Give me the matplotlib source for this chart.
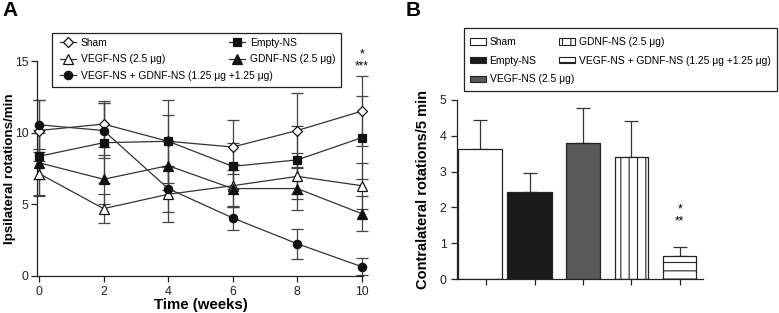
import numpy as np
import matplotlib.pyplot as plt
from matplotlib.patches import Rectangle, Patch

plt.rcParams["font.family"] = ["Liberation Sans", "DejaVu Sans"]
plt.rcParams["hatch.linewidth"] = 0.8

# panel A: ipsilateral rotations over time
weeks = [0, 2, 4, 6, 8, 10]
sham_a = [10.15, 10.6, 9.4, 9.0, 10.15, 11.5]
sham_a_err = [2.1, 1.6, 2.9, 1.9, 2.6, 2.45]
empty_a = [8.35, 9.3, 9.4, 7.65, 8.1, 9.65]
empty_a_err = [1.6, 2.8, 1.8, 1.6, 2.4, 2.9]
vegf_a = [7.15, 4.7, 5.7, 6.3, 6.95, 6.3]
vegf_a_err = [1.5, 1.0, 1.9, 1.5, 1.6, 1.6]
gdnf_a = [7.9, 6.75, 7.7, 6.1, 6.1, 4.35]
gdnf_a_err = [2.3, 1.7, 1.7, 1.3, 1.5, 1.2]
combo_a = [10.55, 10.15, 6.1, 4.05, 2.25, 0.65]
combo_a_err = [1.7, 1.9, 1.6, 0.85, 1.05, 0.6]

# panel B: contralateral rotations
groups_b = ["Sham", "Empty-NS", "VEGF-NS (2.5 \u03bcg)", "GDNF-NS (2.5 \u03bcg)",
            "VEGF-NS + GDNF-NS (1.25 \u03bcg +1.25 \u03bcg)"]
values_b = [3.63, 2.43, 3.81, 3.41, 0.64]
errors_b = [0.82, 0.54, 0.96, 0.99, 0.25]

W, H = 779, 313
fig = plt.figure(figsize=(W / 100, H / 100), dpi=100)

line_col = "#333333"
ax = fig.add_axes([37.4 / W, 1 - 276 / H, 326 / W, 215 / H])

series = [
    ("Sham", sham_a, sham_a_err, "D", "white", 5.5),
    ("VEGF-NS (2.5 \u03bcg)", vegf_a, vegf_a_err, "^", "white", 7),
    ("VEGF-NS + GDNF-NS (1.25 \u03bcg +1.25 \u03bcg)", combo_a, combo_a_err, "o", "#111111", 6),
    ("Empty-NS", empty_a, empty_a_err, "s", "#111111", 5.5),
    ("GDNF-NS (2.5 \u03bcg)", gdnf_a, gdnf_a_err, "^", "#111111", 7),
]
handles = []
for label, vals, errs, mk, fc, ms in series:
    ax.errorbar(weeks, vals, yerr=errs, fmt="none", ecolor="#444444",
                elinewidth=0.9, capsize=4, capthick=0.9, clip_on=False, zorder=2)
    h, = ax.plot(weeks, vals, color=line_col, lw=0.9, marker=mk, markersize=ms,
                 markerfacecolor=fc, markeredgecolor="#111111", markeredgewidth=0.9,
                 clip_on=False, zorder=3, label=label)
    handles.append(h)

ax.set_xlim(-0.05, 10.05)
ax.set_ylim(0, 15)
ax.set_xticks(weeks)
ax.set_yticks([0, 5, 10, 15])
ax.spines["top"].set_visible(False)
ax.spines["right"].set_visible(False)
for s in ["left", "bottom"]:
    ax.spines[s].set_color("#222222")
    ax.spines[s].set_linewidth(0.9)
ax.tick_params(direction="out", length=4, width=0.9, labelsize=8.8, colors="#222222")
ax.tick_params(axis="y", pad=2.5)
ax.set_xlabel("Time (weeks)", fontsize=10.8, fontweight="bold", labelpad=0)
ax.set_ylabel("Ipsilateral rotations/min", fontsize=9.6, fontweight="bold")
ax.yaxis.set_label_coords(-0.066, 0.5)
ax.text(10, 15.45, "*", ha="center", va="center", fontsize=8.5, clip_on=False)
ax.text(10, 14.6, "***", ha="center", va="center", fontsize=8.5, clip_on=False)

leg_kw = dict(frameon=False, fontsize=7.4, handlelength=1.6, handletextpad=0.45,
              labelspacing=0.62, borderpad=0, borderaxespad=0)
fig.legend(handles=handles[:3], loc="upper left",
           bbox_to_anchor=(60 / W, 1 - 38 / H), **leg_kw)
fig.legend(handles=handles[3:], loc="upper left",
           bbox_to_anchor=(229 / W, 1 - 38 / H), **leg_kw)
fig.add_artist(Rectangle((52 / W, 1 - 87 / H), 289 / W, 54 / H, transform=fig.transFigure,
                         fill=False, edgecolor="#222222", lw=0.9))

fig.text(2 / W, 1 - 1 / H, "A", fontsize=15, fontweight="bold", va="top", ha="left")
fig.text(406 / W, 1 - 1 / H, "B", fontsize=15, fontweight="bold", va="top", ha="left")

# panel B
bx = fig.add_axes([457 / W, 1 - 279 / H, 246 / W, 179 / H])
pos = np.arange(len(values_b))
lefts = [-0.586, -0.572, -0.345, -0.345, -0.345]
widths = [0.91, 0.93, 0.69, 0.69, 0.69]
colors = ["white", "#1a1a1a", "#595959", "white", "white"]
hatches = [None, None, None, "||", "--"]
bar_handles = []
for i in range(len(values_b)):
    bx.bar(pos[i] + lefts[i], values_b[i], width=widths[i], align="edge",
           color=colors[i], edgecolor="#222222", linewidth=0.9, hatch=hatches[i],
           zorder=2)
    bx.errorbar(pos[i] + lefts[i] + widths[i] / 2, values_b[i], yerr=[[0], [errors_b[i]]],
                fmt="none", ecolor="#333333", elinewidth=0.9, capsize=5, capthick=0.9,
                zorder=1)
    bar_handles.append(Patch(facecolor=colors[i], edgecolor="#222222", hatch=hatches[i],
                             linewidth=0.8, label=groups_b[i]))
bx.text(4, 1.93, "*", ha="center", va="center", fontsize=8.5)
bx.text(4, 1.62, "**", ha="center", va="center", fontsize=8.5)
bx.set_xlim(-0.607, 4.48)
bx.set_ylim(0, 5)
bx.set_xticks(pos)
bx.set_xticklabels([])
bx.set_yticks(range(6))
bx.spines["top"].set_visible(False)
bx.spines["right"].set_visible(False)
for s in ["left", "bottom"]:
    bx.spines[s].set_color("#222222")
    bx.spines[s].set_linewidth(0.9)
bx.tick_params(direction="out", length=4, width=0.9, labelsize=8.8, colors="#222222")
bx.set_ylabel("Contralateral rotations/5 min", fontsize=10.5, fontweight="bold", labelpad=7)

legb_kw = dict(frameon=False, fontsize=7.4, handlelength=1.6, handleheight=0.6,
               handletextpad=0.3, labelspacing=0.85, borderpad=0, borderaxespad=0)
fig.legend(handles=bar_handles[:3], loc="upper left",
           bbox_to_anchor=(470 / W, 1 - 37 / H), **legb_kw)
fig.legend(handles=bar_handles[3:], loc="upper left",
           bbox_to_anchor=(559 / W, 1 - 37 / H), **legb_kw)
fig.add_artist(Rectangle((464 / W, 1 - 91 / H), 313 / W, 63 / H, transform=fig.transFigure,
                         fill=False, edgecolor="#222222", lw=0.9))

fig.savefig("out.png", dpi=100)
